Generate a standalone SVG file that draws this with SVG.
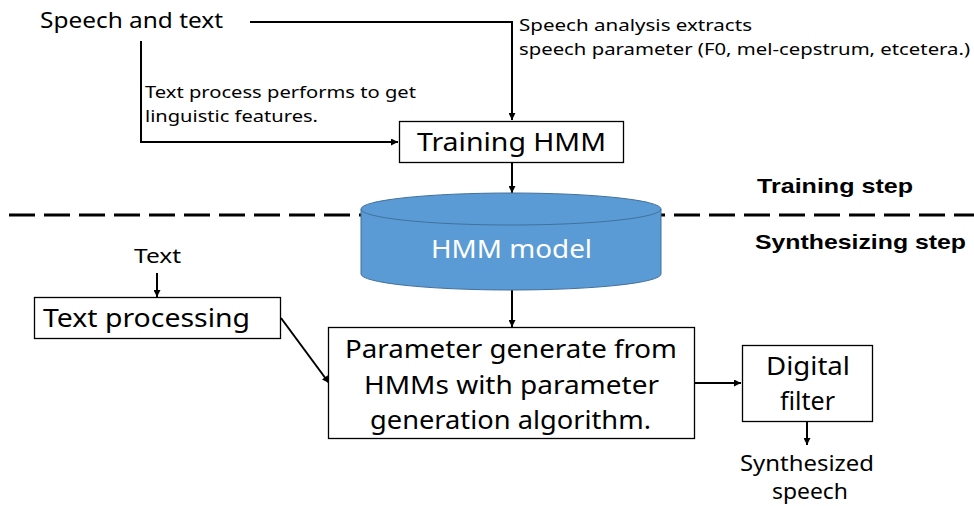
<svg xmlns="http://www.w3.org/2000/svg" width="974" height="506" viewBox="0 0 974 506">
  <defs>
    <marker id="arrow" viewBox="0 0 10 10" refX="10" refY="5" markerWidth="7" markerHeight="7" markerUnits="userSpaceOnUse" orient="auto">
      <path d="M0,0 L10,5 L0,10 Z" fill="#000"/>
    </marker>
  </defs>
  <style>
    text { font-family: "Noto Sans", "Noto Sans CJK JP", sans-serif; fill: #000; }
    .box { fill: #fff; stroke: #000; stroke-width: 1.3; }
    .conn { fill: none; stroke: #000; stroke-width: 2; }
    .lbl { font-size: 16.5px; }
    .big { font-size: 26px; }
    .mid { font-size: 21px; }
    .step { font-family: "Liberation Sans", Arial, sans-serif; font-weight: bold; font-size: 21px; }
  </style>
  <rect width="974" height="506" fill="#fff"/>

  <!-- stage divider -->
  <line x1="9" y1="215" x2="974" y2="215" stroke="#000" stroke-width="3" stroke-dasharray="26 9"/>
  <text class="step" x="757" y="193" textLength="156" lengthAdjust="spacingAndGlyphs">Training step</text>
  <text class="step" x="755" y="249" textLength="211" lengthAdjust="spacingAndGlyphs">Synthesizing step</text>

  <!-- connectors -->
  <g id="connectors">
    <polyline class="conn" points="250,22 512,22 512,120" marker-end="url(#arrow)"/>
    <polyline class="conn" points="141,41 141,142 398,142" marker-end="url(#arrow)"/>
    <line class="conn" x1="512" y1="163" x2="512" y2="193" marker-end="url(#arrow)"/>
    <line class="conn" x1="157" y1="273" x2="157" y2="297" marker-end="url(#arrow)"/>
    <line class="conn" x1="281" y1="318" x2="329" y2="383" marker-end="url(#arrow)"/>
    <line class="conn" x1="512" y1="290" x2="512" y2="327" marker-end="url(#arrow)"/>
    <line class="conn" x1="694" y1="383" x2="741" y2="383" marker-end="url(#arrow)"/>
    <line class="conn" x1="807" y1="422" x2="807" y2="445" marker-end="url(#arrow)"/>
  </g>

  <g id="speech-and-text">
    <text x="40" y="28" font-size="22" textLength="183" lengthAdjust="spacingAndGlyphs">Speech and text</text>
  </g>
  <g id="label-speech-analysis">
    <text class="lbl" x="519" y="31" textLength="233" lengthAdjust="spacingAndGlyphs">Speech analysis extracts</text>
    <text class="lbl" x="519" y="55" textLength="451" lengthAdjust="spacingAndGlyphs">speech parameter (F0, mel-cepstrum, etcetera.)</text>
  </g>
  <g id="label-text-process">
    <text class="lbl" x="145" y="98" textLength="271" lengthAdjust="spacingAndGlyphs">Text process performs to get</text>
    <text class="lbl" x="145" y="122" textLength="173" lengthAdjust="spacingAndGlyphs">linguistic features.</text>
  </g>

  <g id="training-hmm">
    <rect class="box" x="399.5" y="121.5" width="224" height="41"/>
    <text class="big" x="417" y="151" textLength="189" lengthAdjust="spacingAndGlyphs">Training HMM</text>
  </g>

  <g id="hmm-model">
    <path d="M361,209 L361,274 A150,16 0 0 0 661,274 L661,209" fill="#5B9BD5" stroke="#41719C" stroke-width="1"/>
    <ellipse cx="511" cy="209" rx="150" ry="16" fill="#5B9BD5" stroke="#41719C" stroke-width="1"/>
    <text class="big" x="431" y="258" textLength="161" lengthAdjust="spacingAndGlyphs" style="fill:#fff">HMM model</text>
  </g>

  <g id="text-input">
    <text x="134" y="263" font-size="20" textLength="47" lengthAdjust="spacingAndGlyphs">Text</text>
  </g>

  <g id="text-processing">
    <rect class="box" x="34.5" y="297.5" width="246" height="41"/>
    <text class="big" x="43" y="327" textLength="207" lengthAdjust="spacingAndGlyphs">Text processing</text>
  </g>

  <g id="parameter-generation">
    <rect class="box" x="328.5" y="327.5" width="366" height="111"/>
    <text class="big" x="345" y="358" textLength="332" lengthAdjust="spacingAndGlyphs">Parameter generate from</text>
    <text class="big" x="364" y="394" textLength="295" lengthAdjust="spacingAndGlyphs">HMMs with parameter</text>
    <text class="big" x="370" y="429" textLength="281" lengthAdjust="spacingAndGlyphs">generation algorithm.</text>
  </g>

  <g id="digital-filter">
    <rect class="box" x="742.5" y="345.5" width="130" height="76"/>
    <text class="big" x="766" y="375" textLength="84" lengthAdjust="spacingAndGlyphs">Digital</text>
    <text class="big" x="780" y="410" textLength="55" lengthAdjust="spacingAndGlyphs">filter</text>
  </g>

  <g id="synthesized-speech">
    <text class="mid" x="740" y="471" textLength="134" lengthAdjust="spacingAndGlyphs">Synthesized</text>
    <text class="mid" x="772" y="499" textLength="76" lengthAdjust="spacingAndGlyphs">speech</text>
  </g>
</svg>
